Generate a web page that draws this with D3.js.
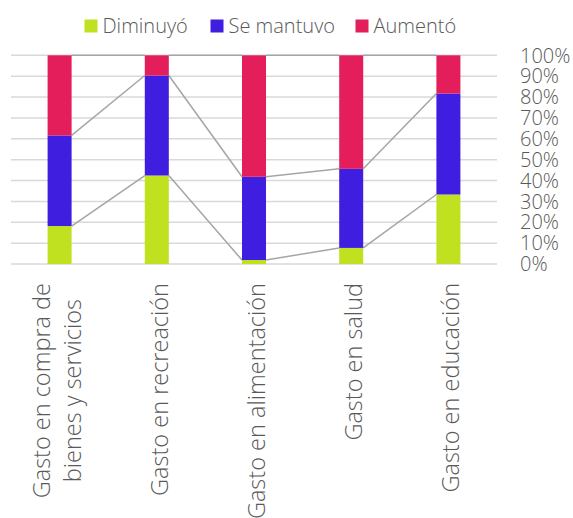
<!DOCTYPE html>
<meta charset="utf-8">
<style>
body { margin: 0; background: #fff; }
text { font-family: "Open Sans", sans-serif; font-weight: 300; fill: #595959; }
.grid line { stroke: #d9d9d9; stroke-width: 1.5px; }
.series-lines line { stroke: #a5a5a5; stroke-width: 1.5px; }
</style>
<svg width="573" height="518"></svg>
<script src="https://d3js.org/d3.v7.min.js"></script>
<script>

var categories = [
  ["Gasto en compra de", "bienes y servicios"],
  ["Gasto en recreación"],
  ["Gasto en alimentación"],
  ["Gasto en salud"],
  ["Gasto en educación"]
];
var seriesNames = ["Diminuyó", "Se mantuvo", "Aumentó"];
var diminuyo  = [18.2, 42.4, 1.9, 7.7, 33.3];
var semantuvo = [43.4, 47.9, 39.9, 37.9, 48.4];
var aumento   = [38.4, 9.7, 58.2, 54.4, 18.3];
var colors = ["#bfe11f", "#401ee0", "#e31e5b"];
var tickValues = [0, 10, 20, 30, 40, 50, 60, 70, 80, 90, 100];

var svg = d3.select("svg");

var margin = {left: 11, right: 76, top: 55.3, bottom: 254};
var width = 573 - margin.left - margin.right,
    height = 518 - margin.top - margin.bottom;

var g = svg.append("g")
    .attr("transform", "translate(" + margin.left + "," + margin.top + ")");

var keys = categories.map(function(d, i) { return i; });

var x = d3.scaleBand()
    .domain(keys)
    .range([0, width])
    .paddingInner(0.753)
    .paddingOuter(0.753 / 2);

var y = d3.scaleLinear()
    .domain([0, 100])
    .range([height, 0]);

// rows for d3.stack
var rows = keys.map(function(i) {
  return {i: i, s0: diminuyo[i], s1: semantuvo[i], s2: aumento[i]};
});
var stacked = d3.stack().keys(["s0", "s1", "s2"])(rows);

// gridlines
g.append("g")
    .attr("class", "grid")
    .selectAll("line")
    .data(tickValues)
    .enter().append("line")
    .attr("x1", 0)
    .attr("x2", width)
    .attr("y1", function(d) { return y(d); })
    .attr("y2", function(d) { return y(d); });

// series lines between bars
var connectors = [];
stacked.forEach(function(layer) {
  for (var k = 0; k < layer.length - 1; k++) {
    connectors.push({a: k, b: k + 1, va: layer[k][1], vb: layer[k + 1][1]});
  }
});

g.append("g")
    .attr("class", "series-lines")
    .selectAll("line")
    .data(connectors)
    .enter().append("line")
    .attr("x1", function(d) { return x(d.a) + x.bandwidth(); })
    .attr("x2", function(d) { return x(d.b); })
    .attr("y1", function(d) { return y(d.va); })
    .attr("y2", function(d) { return y(d.vb); });

// bars
g.append("g")
    .selectAll("g")
    .data(stacked)
    .enter().append("g")
    .attr("fill", function(d, i) { return colors[i]; })
    .selectAll("rect")
    .data(function(d) { return d; })
    .enter().append("rect")
    .attr("x", function(d) { return x(d.data.i); })
    .attr("width", x.bandwidth())
    .attr("y", function(d) { return y(d[1]); })
    .attr("height", function(d) { return y(d[0]) - y(d[1]); });

// right axis labels
g.append("g")
    .selectAll("text")
    .data(tickValues)
    .enter().append("text")
    .attr("x", width + 23)
    .attr("y", function(d) { return y(d); })
    .attr("dy", "0.36em")
    .style("font-size", "20px")
    .text(function(d) { return d + "%"; });

// category labels, rotated
var labelTop = height + 19;
var lineGap = 31;
categories.forEach(function(lines, i) {
  var cx = x(i) + x.bandwidth() / 2;
  var n = lines.length;
  var lab = g.append("g");
  var texts = lines.map(function(t) {
    return lab.append("text").style("font-size", "23.5px").text(t);
  });
  var maxLen = d3.max(texts, function(t) { return t.node().getComputedTextLength(); });
  texts.forEach(function(t, j) {
    var off = 11 - (n - 1) * 5.5 + (j - (n - 1) / 2) * lineGap;
    var px = cx + off;
    var py = labelTop + maxLen / 2;
    t.attr("text-anchor", "middle")
      .attr("transform", "translate(" + px + "," + py + ") rotate(-90)");
  });
});

// legend
var legendItems = [
  {name: seriesNames[0], x: 84.5},
  {name: seriesNames[1], x: 210.5},
  {name: seriesNames[2], x: 355.5}
];
var legend = svg.append("g");
legendItems.forEach(function(d, i) {
  legend.append("rect")
      .attr("x", d.x)
      .attr("y", 19.5)
      .attr("width", 13)
      .attr("height", 13)
      .attr("fill", colors[i]);
  legend.append("text")
      .attr("x", d.x + 18)
      .attr("y", 26)
      .attr("dy", "0.36em")
      .style("font-size", "20px")
      .text(d.name);
});

</script>
